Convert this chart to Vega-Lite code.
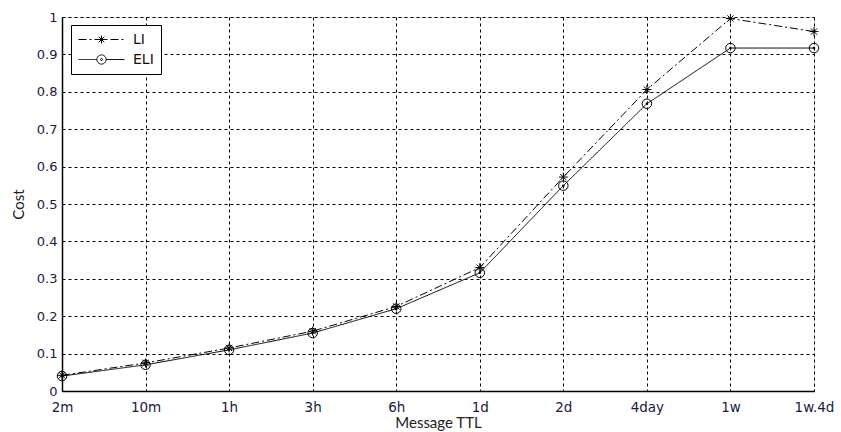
{
  "$schema": "https://vega.github.io/schema/vega-lite/v6.json",
  "autosize": "none",
  "width": 752,
  "height": 374,
  "padding": {"left": 62, "top": 17, "right": 27, "bottom": 41},
  "background": "white",
  "data": {
    "values": [
      {"ttl": "2m", "series": "LI", "cost": 0.042},
      {"ttl": "10m", "series": "LI", "cost": 0.075},
      {"ttl": "1h", "series": "LI", "cost": 0.115},
      {"ttl": "3h", "series": "LI", "cost": 0.16},
      {"ttl": "6h", "series": "LI", "cost": 0.226},
      {"ttl": "1d", "series": "LI", "cost": 0.33},
      {"ttl": "2d", "series": "LI", "cost": 0.572},
      {"ttl": "4day", "series": "LI", "cost": 0.806},
      {"ttl": "1w", "series": "LI", "cost": 0.996},
      {"ttl": "1w.4d", "series": "LI", "cost": 0.961},
      {"ttl": "2m", "series": "ELI", "cost": 0.04},
      {"ttl": "10m", "series": "ELI", "cost": 0.07},
      {"ttl": "1h", "series": "ELI", "cost": 0.11},
      {"ttl": "3h", "series": "ELI", "cost": 0.155},
      {"ttl": "6h", "series": "ELI", "cost": 0.22},
      {"ttl": "1d", "series": "ELI", "cost": 0.316},
      {"ttl": "2d", "series": "ELI", "cost": 0.549},
      {"ttl": "4day", "series": "ELI", "cost": 0.768},
      {"ttl": "1w", "series": "ELI", "cost": 0.917},
      {"ttl": "1w.4d", "series": "ELI", "cost": 0.917}
    ]
  },
  "encoding": {
    "x": {
      "field": "ttl", "type": "ordinal",
      "sort": ["2m", "10m", "1h", "3h", "6h", "1d", "2d", "4day", "1w", "1w.4d"],
      "scale": {"type": "point", "padding": 0},
      "axis": {
        "title": "Message TTL", "labelAngle": 0, "grid": true,
        "gridDash": [3, 3], "gridColor": "#000", "gridOpacity": 1, "gridWidth": 1,
        "domainColor": "#000", "domainWidth": 1.5, "tickColor": "#000", "tickSize": 0,
        "labelFont": "DejaVu Sans", "labelFontSize": 13.5, "labelColor": "#1a1a3a", "labelPadding": 9,
        "titleFont": "Lato", "titleFontSize": 15, "titleFontWeight": "normal", "titleColor": "#222", "titlePadding": 2
      }
    },
    "y": {
      "field": "cost", "type": "quantitative",
      "scale": {"domain": [0, 1], "nice": false},
      "axis": {
        "title": "Cost", "values": [0, 0.1, 0.2, 0.3, 0.4, 0.5, 0.6, 0.7, 0.8, 0.9, 1], "format": "~g",
        "grid": true, "gridDash": [3, 3], "gridColor": "#000", "gridOpacity": 1, "gridWidth": 1,
        "domainColor": "#000", "domainWidth": 1.5, "tickColor": "#000", "tickSize": 0,
        "labelFont": "DejaVu Sans", "labelFontSize": 13, "labelColor": "#1a1a3a", "labelPadding": 5,
        "titleFont": "Lato", "titleFontSize": 15, "titleFontWeight": "normal", "titleColor": "#222", "titlePadding": 10
      }
    }
  },
  "layer": [
    {
      "mark": {"type": "line", "color": "#000", "strokeWidth": 1},
      "encoding": {
        "strokeDash": {
          "field": "series", "type": "nominal",
          "scale": {"domain": ["LI", "ELI"], "range": [[8, 3, 2, 3], [1, 0]]},
          "legend": {
            "title": null, "orient": "none", "legendX": 9, "legendY": 8,
            "strokeColor": "#000", "fillColor": "#fff", "padding": 7,
            "symbolType": "stroke", "symbolSize": 196, "symbolStrokeColor": "#000", "symbolStrokeWidth": 1,
            "labelFont": "DejaVu Sans", "labelFontSize": 14, "labelColor": "#111", "labelOffset": 40,
            "rowPadding": 5,
            "encode": {
              "symbols": {
                "update": {
                  "shape": {"signal": "datum.value == 'LI' ? 'M-1,0L5.571,0M1.714,0L2.857,0M2.286,-0.571L2.286,0.571M1.886,-0.4L2.686,0.4M1.886,0.4L2.686,-0.4' : 'M-1,0L1.629,0M2.943,0L5.571,0M2.943,0A0.657,0.657,0,1,1,1.629,0A0.657,0.657,0,1,1,2.943,0M2.436,0A0.15,0.15,0,1,1,2.136,0A0.15,0.15,0,1,1,2.436,0'"}
                }
              }
            }
          }
        }
      }
    },
    {
      "transform": [{"filter": "datum.series == 'LI'"}],
      "mark": {
        "type": "point", "filled": false, "color": "#000", "strokeWidth": 1, "opacity": 1, "size": 81,
        "shape": "M-1,0L1,0M0,-1L0,1M-0.7,-0.7L0.7,0.7M-0.7,0.7L0.7,-0.7"
      }
    },
    {
      "transform": [{"filter": "datum.series == 'ELI'"}],
      "mark": {"type": "point", "filled": false, "color": "#000", "strokeWidth": 1, "opacity": 1, "size": 90, "shape": "circle"}
    },
    {
      "transform": [{"filter": "datum.series == 'ELI'"}],
      "mark": {"type": "point", "filled": true, "color": "#000", "opacity": 1, "size": 6, "shape": "circle"}
    }
  ]
}
